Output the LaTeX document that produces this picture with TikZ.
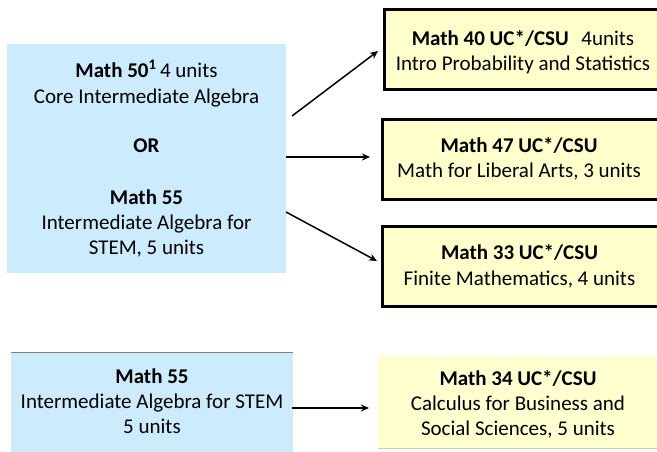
\documentclass[tikz,border=0pt]{standalone}
\usepackage{fontspec}
\setmainfont{Carlito}
\usetikzlibrary{arrows.meta}
\definecolor{boxblue}{RGB}{204,235,252}
\definecolor{boxyellow}{RGB}{255,255,204}
\definecolor{paleyellow}{RGB}{255,255,208}
\begin{document}
\begin{tikzpicture}[x=1pt,y=-1pt,
  txt/.style={anchor=base,inner sep=0pt,font=\fontsize{21}{25}\selectfont},
  bluebox/.style={fill=boxblue,draw=none},
  ybox/.style={fill=boxyellow,draw=black,line width=2.6pt},
  conn/.style={line width=1.5pt,-{Stealth[length=8pt,width=7pt]}}]
\useasboundingbox (0,0) rectangle (657,451);
\fill[white] (0,0) rectangle (657,451);
% boxes
\node[bluebox,anchor=north west,minimum width=279pt,minimum height=229pt,inner sep=0pt] (A) at (7,44) {};
\node[ybox,anchor=north west,minimum width=280pt,minimum height=80pt,inner sep=0pt] (B) at (383,8) {};
\node[ybox,anchor=north west,minimum width=282pt,minimum height=80pt,inner sep=0pt] (C) at (381,118) {};
\node[ybox,anchor=north west,minimum width=282pt,minimum height=80pt,inner sep=0pt] (D) at (381,225) {};
\node[bluebox,anchor=north west,minimum width=282pt,minimum height=104pt,inner sep=0pt] (E) at (11,352) {};
\draw[gray,line width=1pt] (E.north west) -- (E.north east);
\node[fill=paleyellow,draw=none,anchor=north west,minimum width=285pt,minimum height=92pt,inner sep=0pt] (F) at (378,356) {};
\draw[black!20,line width=1pt] (F.south west) -- (F.south east);
% texts big blue
\node[txt] (a1) at (146.5,77) {\textbf{Math 50\textsuperscript{1}}\,4 units};
\node[txt] (a2) at (146.5,103) {Core Intermediate Algebra};
\node[txt] (a3) at (146.5,152) {\textbf{OR}};
\node[txt] (a4) at (146.5,204) {\textbf{Math 55}};
\node[txt] (a5) at (146.5,229) {Intermediate Algebra for};
\node[txt] (a6) at (146.5,254) {STEM, 5 units};
% yellow texts
\node[txt] (b1) at (523,45) {\textbf{Math 40 UC*/CSU}\hspace{0.6em}4units};
\node[txt] (b2) at (523,70) {Intro Probability and Statistics};
\node[txt] (c1) at (519,152) {\textbf{Math 47 UC*/CSU}};
\node[txt] (c2) at (519,177) {Math for Liberal Arts, 3 units};
\node[txt] (d1) at (519.5,259) {\textbf{Math 33 UC*/CSU}};
\node[txt] (d2) at (519.5,285) {Finite Mathematics, 4 units};
% bottom
\node[txt] (e1) at (152,383) {\textbf{Math 55}};
\node[txt] (e2) at (152,408) {Intermediate Algebra for STEM};
\node[txt] (e3) at (152,433) {5 units};
\node[txt] (f1) at (518,385) {\textbf{Math 34 UC*/CSU}};
\node[txt] (f2) at (518,410) {Calculus for Business and};
\node[txt] (f3) at (518,435) {Social Sciences, 5 units};
% connectors
\coordinate (s1) at (292,116);
\coordinate (t1) at (378,51);
\coordinate (s2) at (286,157);
\coordinate (t2) at (370,157);
\coordinate (s3) at (286,212);
\coordinate (t3) at (377,261);
\coordinate (s4) at (292,408);
\coordinate (t4) at (369,408);
\draw[conn] (s1) -- (t1);
\draw[conn] (s2) -- (t2);
\draw[conn] (s3) -- (t3);
\draw[conn] (s4) -- (t4);
\end{tikzpicture}
\end{document}
